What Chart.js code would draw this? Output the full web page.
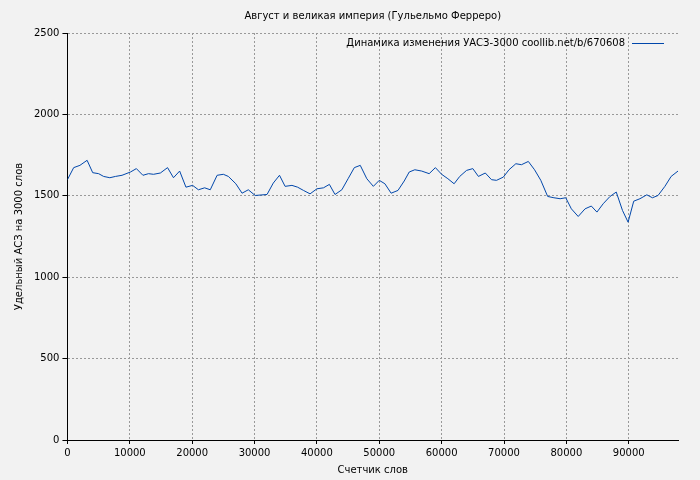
<!DOCTYPE html>
<html><head><meta charset="utf-8">
<script src="https://cdn.jsdelivr.net/npm/chart.js@4"></script>
<style>html,body{margin:0;background:#f2f2f2}#c{width:700px;height:480px}</style>
</head><body><div id="c"><canvas id="cv" width="700" height="480"></canvas></div>
<script>
const xWords=[0,1000,2000,3150,4050,5000,5800,6800,7700,8750,10100,11050,12100,13000,13800,14900,16050,17000,17990,19000,20070,21000,22000,22900,24000,25000,25800,27000,28000,29000,30100,32000,33000,34000,34900,36000,36900,37850,38900,40000,41050,42000,42900,44000,45000,46000,46950,48000,49050,50000,50900,51900,53000,54000,54800,55700,56800,58000,59000,60000,61000,62000,62900,64000,65000,65900,67000,68000,68800,69900,70800,71900,72800,73900,74900,75900,77000,78000,79000,79900,80800,81900,83000,84000,84900,85900,87000,88000,89000,89900,90800,91800,92900,93800,94700,95800,96800,97900];
const uasc=[1599,1673,1687,1718,1642,1636,1619,1611,1619,1626,1646,1667,1626,1636,1632,1640,1673,1611,1652,1553,1564,1537,1549,1537,1626,1632,1619,1574,1516,1537,1502,1508,1578,1626,1558,1564,1553,1533,1512,1543,1549,1570,1508,1537,1605,1673,1687,1605,1558,1595,1574,1516,1533,1591,1646,1660,1652,1636,1673,1632,1605,1574,1619,1656,1667,1619,1640,1599,1595,1615,1660,1697,1691,1711,1660,1595,1496,1488,1482,1488,1420,1373,1420,1437,1400,1451,1496,1523,1410,1338,1467,1482,1506,1488,1502,1558,1619,1652];
const xTicks=[0,10000,20000,30000,40000,50000,60000,70000,80000,90000];
const title="Август и великая империя (Гульельмо Ферреро)";
const legendText="Динамика изменения УАСЗ-3000 coollib.net/b/670608";
const xLabel="Счетчик слов", yLabel="Удельный АСЗ на 3000 слов";
const F="DejaVu Sans";
const legendPlugin={id:'lg',afterDraw(c){const a=c.chartArea,x=c.ctx;x.save();x.font="10px "+F;x.fillStyle="#000";x.textAlign="right";x.textBaseline="middle";x.fillText(legendText,a.right-53,43);x.strokeStyle="#0047ab";x.lineWidth=1;x.beginPath();x.moveTo(a.right-46,43.5);x.lineTo(a.right-14,43.5);x.stroke();x.restore();
x.save();x.font="10px "+F;x.fillStyle="#000";x.textAlign="center";x.fillText(title,(a.left+a.right)/2,19);x.restore();}};
const bg={id:'bg',beforeDraw(c){c.ctx.fillStyle="#f2f2f2";c.ctx.fillRect(0,0,c.width,c.height);}};
new Chart(document.getElementById('cv'),{type:'line',
data:{datasets:[{data:xWords.map((x,i)=>({x,y:uasc[i]})),borderColor:'#0047ab',borderWidth:1,pointRadius:0,tension:0}]},
options:{responsive:false,animation:false,layout:{padding:{left:9,right:22,top:33,bottom:4}},
plugins:{legend:{display:false},tooltip:{enabled:false},title:{display:false}},
scales:{x:{type:'linear',min:0,max:97900,afterBuildTicks:s=>{s.ticks=xTicks.map(v=>({value:v}));},ticks:{autoSkip:false,color:'#000',font:{family:F,size:10},maxRotation:0,callback:v=>String(v)},
grid:{color:'#999',lineWidth:1,drawTicks:true,tickLength:4,tickColor:'#000'},border:{display:true,color:'#000',dash:[2,2]},
title:{display:true,text:xLabel,color:'#000',font:{family:F,size:10},padding:{top:2,bottom:0}}},
y:{min:0,max:2500,ticks:{stepSize:500,color:'#000',font:{family:F,size:10},callback:v=>String(v)},grid:{color:'#999',tickLength:5,tickColor:'#000'},border:{display:true,color:'#000',dash:[2,2]},
title:{display:true,text:yLabel,color:'#000',font:{family:F,size:10},padding:{bottom:6}}}}},
plugins:[bg,legendPlugin]});
</script></body></html>
